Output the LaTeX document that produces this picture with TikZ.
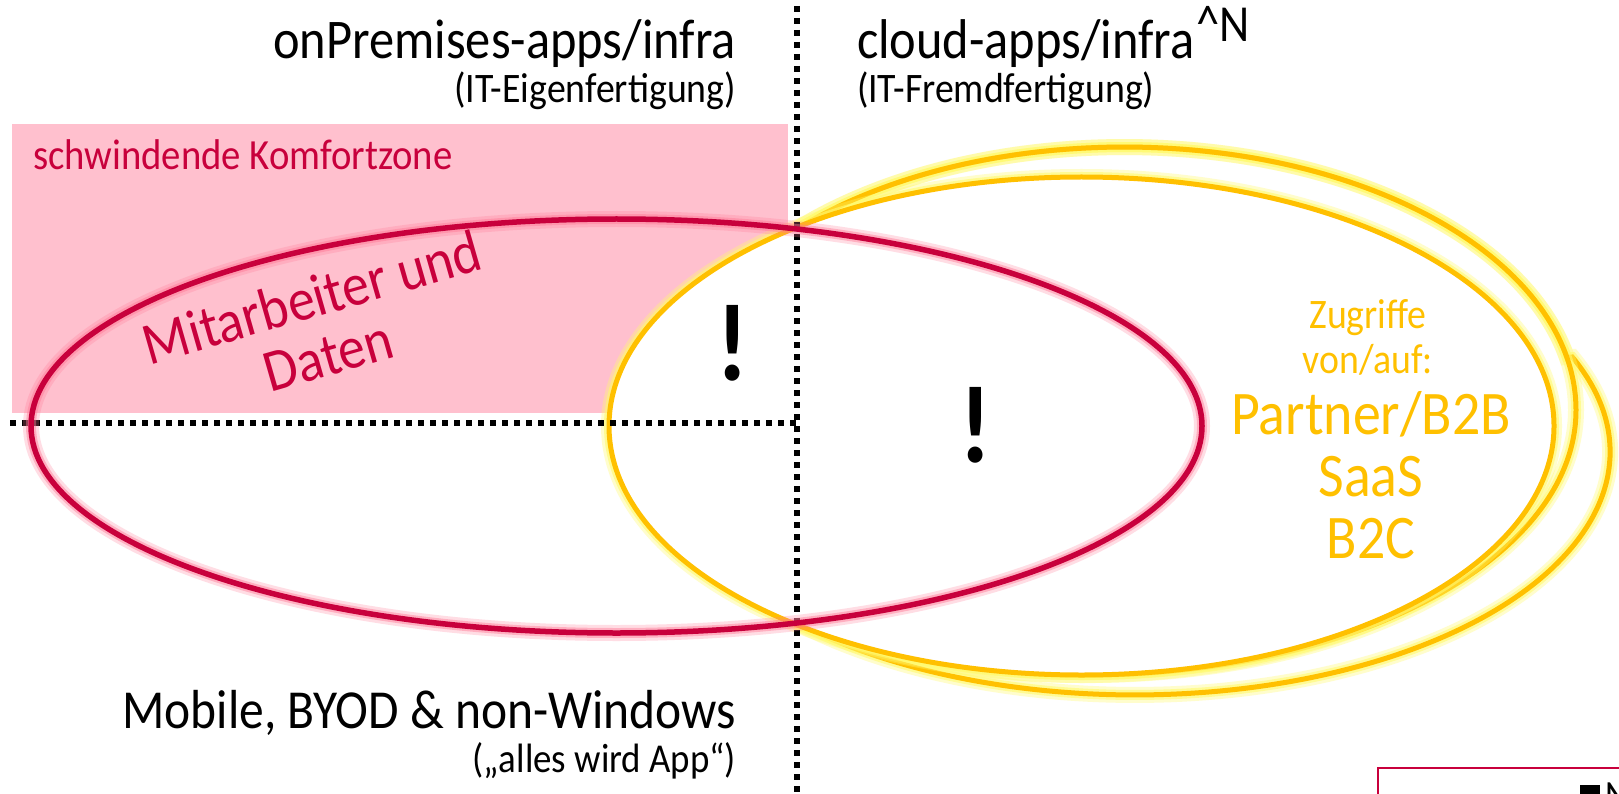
\documentclass[tikz,border=0pt]{standalone}
\usepackage{fontspec}
\setmainfont{Carlito}[FakeStretch=0.9]
\definecolor{myred}{RGB}{200,0,60}
\definecolor{mypink}{RGB}{255,192,206}
\definecolor{ycol}{RGB}{255,192,0}
\definecolor{yglowc}{RGB}{255,250,110}
\definecolor{rglowc}{RGB}{255,120,150}
\tikzset{
  yglow/.style={preaction={draw=yglowc, line width=16pt, draw opacity=0.35},
                preaction={draw=yglowc, line width=10pt, draw opacity=0.6},
                draw=ycol, line width=5pt},
  rglow/.style={preaction={draw=rglowc, line width=16pt, draw opacity=0.25},
                preaction={draw=rglowc, line width=10pt, draw opacity=0.45},
                draw=myred, line width=5.5pt},
  dotline/.style={line width=6pt, dash pattern=on 6pt off 6pt},
  txt/.style={inner sep=0pt, outer sep=0pt},
}
\begin{document}
\begin{tikzpicture}[x=1pt,y=-1pt]
\useasboundingbox (0,0) rectangle (1619,794);
\clip (0,0) rectangle (1619,794);
\fill[white] (0,0) rectangle (1619,794);
% comfort zone
\fill[mypink] (12,124) rectangle (788,413);
\coordinate (P1) at (797,229);
\coordinate (P2) at (797,623);
% outer yellow loops
\draw[yglow] (P1) arc[start angle=-136.5, end angle=-11.6, x radius=451.5, y radius=263]
   -- (1572.2,357) arc[start angle=-23.0, end angle=135.3, x radius=475.3, y radius=243];
\draw[yglow] (P1) arc[start angle=-136.5, end angle=0, x radius=451.5, y radius=263]
   arc[start angle=0, end angle=126.5, x radius=488.4, y radius=265];
% inner yellow ellipse
\path[fill=white, yglow] (1081.5,426) ellipse[x radius=472.5, y radius=249];
% dotted axes
\coordinate (vtop) at (797,6);
\coordinate (vbot) at (797,800);
\coordinate (hleft) at (10,423);
\coordinate (hright) at (797,423);
\draw[dotline] (vtop) -- (vbot);
\draw[dotline] (hleft) -- (hright);
% red ellipse
\draw[rglow] (616.5,426) ellipse[x radius=585.5, y radius=207];
% texts
\node[txt, anchor=base east, font=\fontsize{56}{60}\selectfont] (onprem) at (736,59) {onPremises-apps/infra};
\node[txt, anchor=base east, font=\fontsize{42}{46}\selectfont] (eigen) at (736,103) {(IT-Eigenfertigung)};
\node[txt, anchor=base west, font=\fontsize{56}{60}\selectfont] (cloud) at (857,59) {cloud-apps/infra};
\node[txt, anchor=base west, font=\fontsize{52}{56}\selectfont] (supn) at (1196,42) {\^{}N};
\node[txt, anchor=base west, font=\fontsize{42}{46}\selectfont] (fremd) at (857,103) {(IT-Fremdfertigung)};
\node[txt, anchor=base west, text=myred, font=\fontsize{43}{47}\selectfont] (komfort) at (33,170) {schwindende Komfortzone};
\node[txt, text=myred, rotate=16, align=center, font=\fontsize{60}{60}\selectfont] (mit) at (320,326) {Mitarbeiter und\\Daten};
\node[txt, anchor=base, font=\bfseries\fontsize{110}{110}\selectfont] (bang1) at (733,380) {!};
\node[txt, anchor=base, font=\bfseries\fontsize{110}{110}\selectfont] (bang2) at (976,462) {!};
\node[txt, anchor=base east, font=\fontsize{55}{58}\selectfont] (mobile) at (736,728) {Mobile, BYOD \& non-Windows};
\node[txt, anchor=base east, font=\fontsize{41}{45}\selectfont] (app) at (736,772) {(„alles wird App“)};
\node[txt, anchor=base, text=ycol, font=\fontsize{42}{44}\selectfont] (zug) at (1368,328) {Zugriffe};
\node[txt, anchor=base, text=ycol, font=\fontsize{42}{44}\selectfont] (vonauf) at (1368,373) {von/auf:};
\node[txt, anchor=base, text=ycol, font=\fontsize{62}{64}\selectfont] (partner) at (1371,434) {Partner/B2B};
\node[txt, anchor=base, text=ycol, font=\fontsize{62}{64}\selectfont] (saas) at (1371,496) {SaaS};
\node[txt, anchor=base, text=ycol, font=\fontsize{62}{64}\selectfont] (b2c) at (1371,558) {B2C};
% cropped legend box at bottom right
\draw[myred, line width=1.5pt] (1378,768) rectangle (1640,830);
\fill[black] (1580,785) rectangle (1600,800);
\node[txt, anchor=north west, font=\fontsize{40}{44}\selectfont] (legn) at (1605,783) {N};
\end{tikzpicture}
\end{document}
